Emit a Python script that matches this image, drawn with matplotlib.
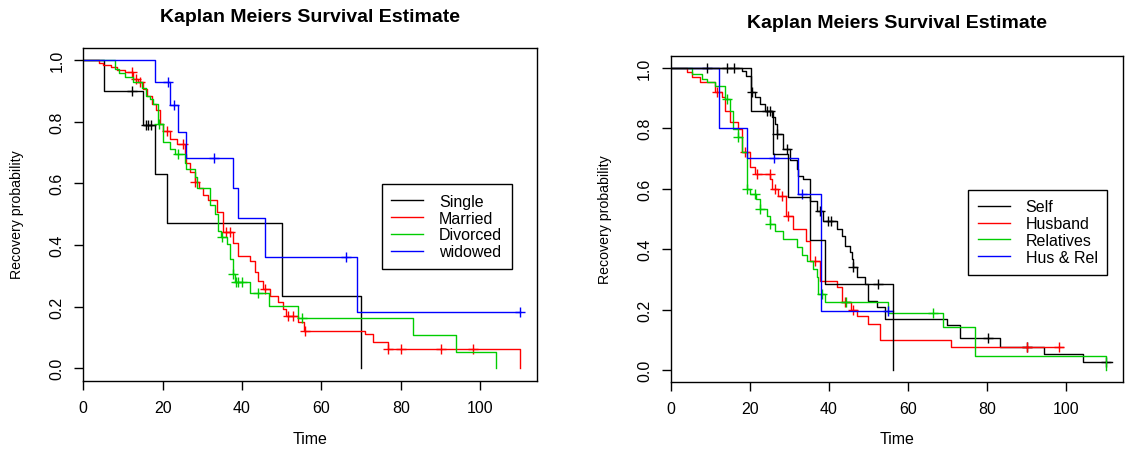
import numpy as np
import matplotlib
matplotlib.use("Agg")
import matplotlib.pyplot as plt

plt.rcParams['font.family'] = ['Liberation Sans', 'DejaVu Sans']

# ---- left panel: marital status ----
single_t = [5.1, 15.0, 18.1, 21.2, 50.1, 70.0]
single_s = [0.90, 0.788, 0.631, 0.473, 0.236, 0.0]
single_c = [12.2, 15.8, 16.4, 17.0]
single_end = 70.0

married_t = [4.0, 5.0, 7.0, 8.5, 10.5, 12.5, 13.8, 15.0, 16.0, 17.2, 18.3, 19.3, 20.2,
             21.8, 23.5, 25.6, 26.0, 26.9, 28.1, 29.2, 30.2, 31.5, 33.6, 35.1, 37.7,
             39.0, 42.0, 43.2, 44.1, 45.3, 47.0, 49.1, 50.4, 51.2, 54.2, 55.5, 71.0,
             73.0, 76.8, 110.0]
married_s = [0.992, 0.985, 0.976, 0.969, 0.960, 0.940, 0.928, 0.906, 0.885, 0.858, 0.837,
             0.794, 0.770, 0.745, 0.729, 0.694, 0.665, 0.638, 0.605, 0.584, 0.562, 0.545,
             0.506, 0.441, 0.406, 0.365, 0.349, 0.311, 0.284, 0.257, 0.236, 0.214, 0.192,
             0.171, 0.149, 0.122, 0.111, 0.086, 0.063, 0.0]
married_c = [12.2, 13.4, 14.3, 21.0, 25.2, 28.1, 36.0, 36.9, 45.8, 51.6, 52.9, 55.8,
             76.8, 80.0, 90.1, 98.1]
married_end = 110.0

divorced_t = [8.0, 9.1, 10.5, 12.6, 14.7, 15.8, 16.8, 17.6, 18.9, 20.2, 21.8, 23.0, 25.6,
              26.0, 28.1, 28.6, 31.9, 33.2, 34.0, 34.6, 36.1, 36.9, 37.8, 38.2, 42.0,
              46.9, 54.0, 83.1, 93.9, 104.1]
divorced_s = [0.971, 0.958, 0.944, 0.928, 0.909, 0.885, 0.874, 0.858, 0.794, 0.734,
              0.713, 0.694, 0.665, 0.648, 0.621, 0.584, 0.530, 0.500, 0.446, 0.425,
              0.403, 0.354, 0.306, 0.279, 0.243, 0.203, 0.163, 0.108, 0.054, 0.0]
divorced_c = [19.0, 23.9, 34.9, 37.8, 38.4, 39.0, 39.9, 44.1, 55.0]
divorced_end = 104.1

widowed_t = [18.1, 21.8, 23.9, 26.0, 37.8, 39.0, 45.9, 69.0]
widowed_s = [0.929, 0.853, 0.767, 0.683, 0.584, 0.489, 0.362, 0.182]
widowed_c = [21.3, 22.9, 33.0, 66.2, 110.0]
widowed_end = 110.0

# ---- right panel: who accompanies ----
self_t = [18.1, 19.1, 20.2, 21.3, 22.5, 23.8, 25.5, 26.3, 26.9, 28.4, 30.1, 31.8, 32.2,
          33.5, 35.2, 36.9, 38.6, 42.0, 43.2, 44.1, 45.2, 45.7, 46.2, 47.0, 49.1, 50.0,
          52.1, 54.2, 69.8, 73.2, 83.3, 94.3, 104.4]
self_s = [0.988, 0.974, 0.918, 0.902, 0.880, 0.858, 0.836, 0.813, 0.780, 0.731, 0.693,
          0.665, 0.643, 0.632, 0.560, 0.527, 0.494, 0.466, 0.444, 0.411, 0.389, 0.367,
          0.340, 0.307, 0.284, 0.227, 0.207, 0.169, 0.150, 0.106, 0.077, 0.053, 0.025]
self_c = [9.0, 14.1, 16.0, 20.5, 24.3, 25.0, 26.9, 29.3, 37.7, 39.8, 40.6, 46.2,
          80.2, 90.0, 110.1]
self_end = 111.6

husband_t = [4.1, 5.2, 7.3, 11.1, 12.8, 13.7, 14.9, 17.0, 17.9, 20.0, 21.3, 25.1, 25.6,
             27.0, 29.1, 31.0, 34.2, 35.2, 37.7, 42.0, 43.2, 45.5, 47.0, 50.0, 52.9, 71.0]
husband_s = [0.985, 0.968, 0.951, 0.919, 0.902, 0.858, 0.820, 0.797, 0.720, 0.671,
             0.649, 0.632, 0.599, 0.577, 0.511, 0.467, 0.428, 0.361, 0.295, 0.273,
             0.224, 0.200, 0.180, 0.152, 0.100, 0.075]
husband_c = [11.6, 18.7, 21.9, 25.0, 26.3, 28.0, 29.7, 36.5, 44.1, 46.2, 90.0, 98.1]
husband_end = 99.3

relatives_t = [5.2, 7.8, 9.0, 11.1, 13.7, 14.9, 15.8, 17.0, 18.1, 19.2, 20.0, 21.5, 22.5,
               24.2, 25.1, 26.3, 28.3, 32.0, 33.1, 34.4, 36.0, 36.9, 37.2, 39.0, 55.0,
               68.9, 77.0, 110.1]
relatives_s = [0.979, 0.963, 0.952, 0.938, 0.896, 0.858, 0.797, 0.770, 0.720, 0.600,
               0.582, 0.566, 0.533, 0.511, 0.483, 0.461, 0.434, 0.408, 0.381, 0.362,
               0.334, 0.307, 0.251, 0.224, 0.188, 0.142, 0.045, 0.0]
relatives_c = [14.1, 17.0, 19.2, 21.3, 22.5, 25.1, 38.2, 44.2, 66.3]
relatives_end = 110.1

husrel_t = [12.2, 19.2, 32.1, 38.1]
husrel_s = [0.800, 0.700, 0.583, 0.194]
husrel_c = [26.2, 33.1, 55.0]
husrel_end = 56.3

other_t = [20.2, 25.9, 29.7, 35.2, 39.0, 56.1]
other_s = [0.857, 0.714, 0.571, 0.429, 0.286, 0.0]
other_c = [52.3]
other_end = 56.1

left_labels = ["Single", "Married", "Divorced", "widowed"]
right_labels = ["Self", "Husband", "Relatives", "Hus & Rel"]
colors = ["black", "#FF0000", "#00CD00", "#0000FF"]


def km(ax, t, s, cens, end, color, label=None):
    x = np.r_[0, t, end]
    y = np.r_[1, s, s[-1]]
    ax.step(x, y, where='post', color=color, lw=1.0, label=label)
    idx = np.searchsorted(t, cens, side='right')
    yc = np.r_[1, s][idx]
    ax.plot(cens, yc, '+', color=color, ms=7, mew=1.0)


def style(ax, xmax, ylim):
    ax.set_xlim(0, xmax)
    ax.set_ylim(*ylim)
    ax.set_xticks(range(0, 101, 20))
    ax.set_yticks(np.arange(0, 1.01, 0.2))
    ax.set_yticklabels(["0.0", "0.2", "0.4", "0.6", "0.8", "1.0"], rotation=90, va='center')
    ax.tick_params(direction='out', length=6.5, width=1, labelsize=11.5, pad=7)
    for sp in ax.spines.values():
        sp.set_linewidth(1)


fig = plt.figure(figsize=(11.38, 4.56), dpi=100)
ax1 = fig.add_axes([0.0732, 0.1616, 0.3989, 0.7309])
ax2 = fig.add_axes([0.5896, 0.1594, 0.3975, 0.7163])

km(ax1, single_t, single_s, single_c, single_end, colors[0], left_labels[0])
km(ax1, married_t, married_s, married_c, married_end, colors[1], left_labels[1])
km(ax1, divorced_t, divorced_s, divorced_c, divorced_end, colors[2], left_labels[2])
km(ax1, widowed_t, widowed_s, widowed_c, widowed_end, colors[3], left_labels[3])

km(ax2, self_t, self_s, self_c, self_end, colors[0], right_labels[0])
km(ax2, husband_t, husband_s, husband_c, husband_end, colors[1], right_labels[1])
km(ax2, relatives_t, relatives_s, relatives_c, relatives_end, colors[2], right_labels[2])
km(ax2, husrel_t, husrel_s, husrel_c, husrel_end, colors[3], right_labels[3])
km(ax2, other_t, other_s, other_c, other_end, colors[0])

style(ax1, 114.4, (-0.042, 1.039))
style(ax2, 114.5, (-0.0407, 1.0397))

for ax, anchor in [(ax1, (0.657, 0.592)), (ax2, (0.657, 0.590))]:
    leg = ax.legend(loc='upper left', bbox_to_anchor=anchor, fontsize=11.5,
                    frameon=True, fancybox=False, edgecolor='black', framealpha=1,
                    handlelength=2.0, handletextpad=1.0, borderpad=0.6,
                    labelspacing=0.12, borderaxespad=0)
    leg.get_frame().set_linewidth(1)

fig.text(310 / 1138, 1 - 17 / 456, "Kaplan Meiers Survival Estimate",
         ha='center', va='center', fontsize=14, fontweight='bold')
fig.text(897 / 1138, 1 - 23 / 456, "Kaplan Meiers Survival Estimate",
         ha='center', va='center', fontsize=14, fontweight='bold')
fig.text(310 / 1138, 1 - 440 / 456, "Time", ha='center', va='center', fontsize=11.5)
fig.text(897 / 1138, 1 - 440 / 456, "Time", ha='center', va='center', fontsize=11.5)
fig.text(17 / 1138, 1 - 215 / 456, "Recovery probability", rotation=90,
         ha='center', va='center', fontsize=10.2)
fig.text(605 / 1138, 1 - 220 / 456, "Recovery probability", rotation=90,
         ha='center', va='center', fontsize=10.2)

fig.savefig("out.png", dpi=100)
